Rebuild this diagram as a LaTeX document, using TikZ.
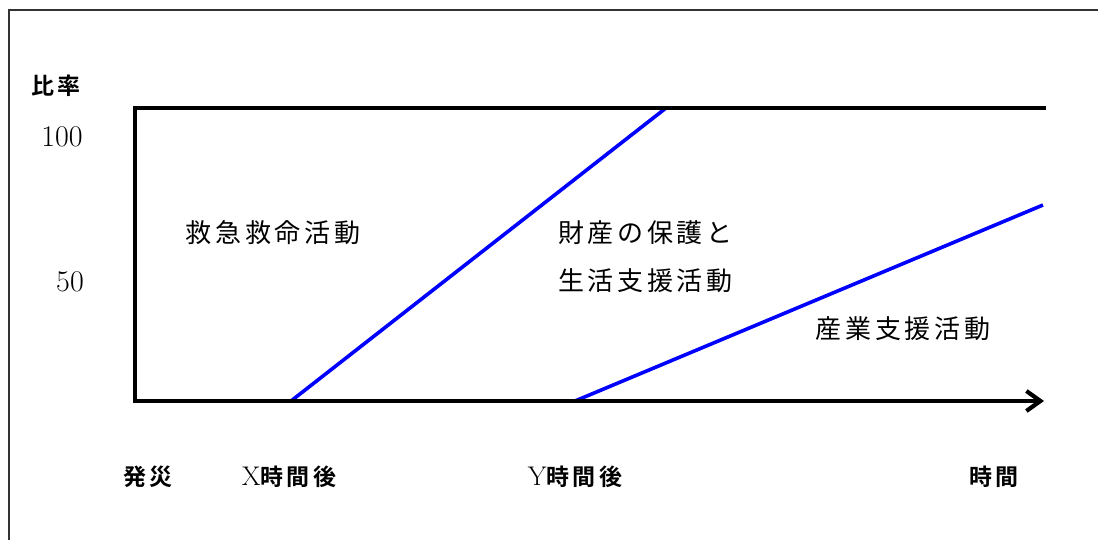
\documentclass[tikz,border=0pt]{standalone}
\usepackage{fontspec}
\usetikzlibrary{arrows.meta}
\newfontfamily\jp[LetterSpace=14]{Noto Sans CJK JP}
\newfontfamily\jpb[LetterSpace=14]{Noto Sans CJK JP Bold}
\tikzset{
	frame/.style={draw=black!80, line width=1.3pt},
	axis/.style={line width=4.2pt},
	share/.style={draw=blue, line width=3.6pt},
	area/.style={inner sep=0pt, font=\jp\fontsize{26}{48}\selectfont},
	tick/.style={inner sep=0pt, font=\jpb\fontsize{23}{26}\selectfont},
	num/.style={inner sep=0pt, font=\fontsize{30}{34}\selectfont}
}

\begin{document}
\begin{tikzpicture}[x=1pt, y=-1pt]
		\useasboundingbox (0,0) rectangle (1098,540);
		\draw[frame] (9,560) -- (9,10) -- (1120,10);
		
		\coordinate (topleft) at (135,108);
		\coordinate (topright) at (1044,108);
		\coordinate (origin) at (135,401);
		\coordinate (xend) at (1044,401);
		\coordinate (xstart) at (291,401);
		\coordinate (xfull) at (666,108);
		\coordinate (ystart) at (575,401);
		\coordinate (yend) at (1043,205);
		
		\draw[share] (xstart) -- (xfull);
		\draw[share] (ystart) -- (yend);
		\draw[axis, line cap=rect] (topright) -- (topleft) -- (origin);
		\draw[axis, -{Straight Barb[length=14pt, width=20pt]}] (origin) -- (xend);
		
		\node[tick] (ratio) at (56,86) {比率};
		\node[num] (hundred) at (62,137) {100};
		\node[num] (fifty) at (70,282) {50};
		
		\node[area] (rescue) at (273,233) {救急救命活動};
		\node[area, anchor=west, align=left] (property) at (558,257) {財産の保護と\\生活支援活動};
		\node[area] (industry) at (903,329) {産業支援活動};
		
		\node[tick] (onset) at (148,477) {発災};
		\node[tick] (xafter) at (289,477) {{\rmfamily\fontsize{27}{30}\selectfont X}時間後};
		\node[tick] (yafter) at (575,477) {{\rmfamily\fontsize{27}{30}\selectfont Y}時間後};
		\node[tick] (time) at (994,477) {時間};
	\end{tikzpicture}
\end{document}
